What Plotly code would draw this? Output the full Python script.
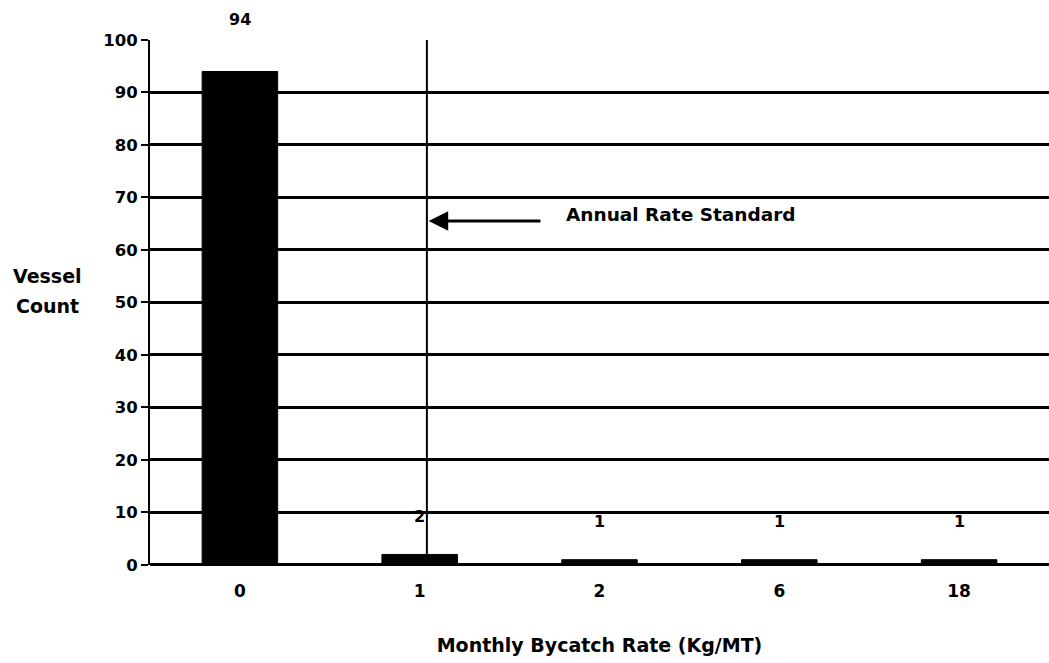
import plotly.graph_objects as go

categories = ["0", "1", "2", "6", "18"]
counts = [94, 2, 1, 1, 1]
y_ticks = [0, 10, 20, 30, 40, 50, 60, 70, 80, 90, 100]
standard_x = 1.04
standard_label = "Annual Rate Standard"
y_title_lines = ["Vessel", "Count"]
label_shift = [52, 38, 38, 38, 38]

FONT = "DejaVu Sans"

fig = go.Figure()
fig.add_trace(go.Bar(
    x=list(range(len(categories))), y=counts,
    marker=dict(color="black", line=dict(color="black", width=1)),
    width=0.42, showlegend=False,
))

for i, (c, v) in enumerate(zip(categories, counts)):
    fig.add_annotation(x=i, y=v, text=f"<b>{v}</b>", showarrow=False,
                       yshift=label_shift[i], font=dict(family=FONT, size=16, color="black"))

# Annual rate standard vertical line
fig.add_shape(type="line", x0=standard_x, x1=standard_x, y0=0, y1=100,
              xref="x", yref="y", line=dict(color="black", width=2))
fig.add_annotation(x=1.05, y=65.5, ax=1.68, ay=65.5, xref="x", yref="y", axref="x", ayref="y",
                   showarrow=True, arrowhead=2, arrowsize=1.3, arrowwidth=3, arrowcolor="black", text="")
fig.add_annotation(x=1.8, y=66.8, xref="x", yref="y", text=f"<b>{standard_label}</b>",
                   showarrow=False, xanchor="left", font=dict(family=FONT, size=18.5, color="black"))

for j, line in enumerate(y_title_lines):
    fig.add_annotation(x=(47 - 150) / 899, y=(565 - (276 + 30 * j)) / 525, xref="paper", yref="paper",
                       text=f"<b>{line}</b>", xanchor="center", yanchor="middle",
                       showarrow=False, font=dict(family=FONT, size=19, color="black"))

fig.update_layout(
    width=1049, height=663,
    margin=dict(l=150, r=0, t=40, b=98),
    plot_bgcolor="white", paper_bgcolor="white",
    xaxis=dict(
        tickmode="array", tickvals=list(range(len(categories))), ticktext=[f"<b>{c}</b>" for c in categories],
        range=[-0.5, 4.5], showgrid=False, zeroline=False, showline=False,
        ticks="", ticklabelstandoff=14, tickfont=dict(family=FONT, size=17, color="black"),
        title=dict(text="<b>Monthly Bycatch Rate (Kg/MT)</b>", font=dict(family=FONT, size=19, color="black"), standoff=38),
    ),
    yaxis=dict(
        range=[-0.01, 100], tickvals=y_ticks, ticktext=[f"<b>{t}</b>" for t in y_ticks],
        showgrid=True, gridcolor="black", gridwidth=3,
        zeroline=True, zerolinecolor="black", zerolinewidth=3,
        showline=True, linecolor="black", linewidth=2,
        ticks="outside", ticklen=7, tickwidth=2, tickcolor="black",
        tickfont=dict(family=FONT, size=16.5, color="black"),
    ),
)

# x boundary ticks
for b in [0.5, 1.5, 2.5, 3.5]:
    fig.add_shape(type="line", x0=b, x1=b, y0=0, y1=-1.3, xref="x", yref="y",
                  line=dict(color="black", width=2))

fig.write_html("out.html")
